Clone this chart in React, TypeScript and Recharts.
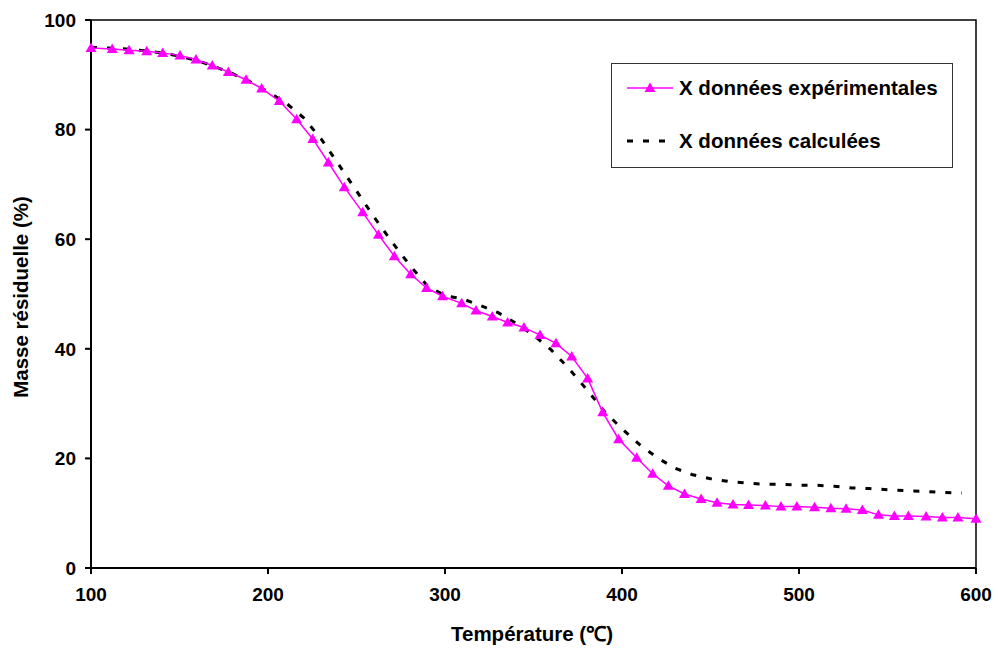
import React from "react";
import {
  LineChart,
  Line,
  XAxis,
  YAxis,
  ReferenceArea,
} from "recharts";

// experimental points (temperature °C, residual mass %)
const expTemp = [
  100, 112, 121.5, 131.5, 140.5, 150.3, 159.3, 168.5, 177.6, 187.6, 196.4,
  206.4, 216.2, 225.3, 234.1, 243.1, 253.5, 262.4, 271.4, 280.6, 289.6, 298.6,
  309.4, 317.5, 326.7, 335.4, 344.6, 353.7, 362.7, 371.6, 380.6, 389.1, 398.1,
  408.3, 417.3, 426.2, 435.3, 444.7, 453.7, 462.7, 471.5, 481, 489.8, 498.8,
  508.8, 518, 526.6, 535.8, 544.9, 553.9, 561.8, 571.8, 581, 589.8, 600,
];
const expMass = [
  94.9, 94.7, 94.5, 94.3, 94.0, 93.5, 92.8, 91.7, 90.5, 89.1, 87.5, 85.2, 81.9,
  78.3, 74.0, 69.5, 64.9, 60.8, 56.9, 53.6, 51.1, 49.6, 48.3, 47.0, 45.9, 44.8,
  43.9, 42.5, 41.0, 38.6, 34.6, 28.4, 23.5, 20.1, 17.2, 15.0, 13.5, 12.6, 11.9,
  11.6, 11.5, 11.4, 11.2, 11.2, 11.1, 10.9, 10.8, 10.6, 9.7, 9.5, 9.5, 9.4, 9.2,
  9.2, 9.0,
];

// calculated curve
const calcTemp = [
  100, 110, 120, 130, 140, 150, 160, 170, 180, 190, 200, 210, 220, 230, 240,
  250, 260, 270, 280, 290, 300, 310, 320, 330, 340, 350, 360, 370, 380, 390,
  400, 410, 420, 430, 440, 450, 460, 470, 480, 490, 500, 510, 520, 530, 540,
  550, 560, 570, 580, 592,
];
const calcMass = [
  95.0, 94.9, 94.7, 94.4, 94.0, 93.4, 92.6, 91.5, 90.2, 88.7, 86.9, 84.9, 82.2,
  78.3, 73.6, 68.8, 64.0, 59.5, 55.3, 51.5, 49.7, 49.1, 47.9, 46.6, 44.7, 42.5,
  39.8, 36.4, 32.6, 28.6, 25.4, 22.5, 20.1, 18.2, 17.0, 16.3, 15.8, 15.5, 15.3,
  15.3, 15.1, 15.1, 14.9, 14.6, 14.5, 14.3, 14.1, 14.0, 13.8, 13.7,
];

const xTicks = [100, 200, 300, 400, 500, 600];
const yTicks = [0, 20, 40, 60, 80, 100];

const MAGENTA = "#ff00ff";
const FONT = '"Liberation Sans", Arial, sans-serif';

const expData = expTemp.map((t, i) => ({ t, m: expMass[i] }));
const calcData = calcTemp.map((t, i) => ({ t, m: calcMass[i] }));

function Triangle(props: any) {
  const { cx, cy } = props;
  if (cx == null || cy == null) return null;
  return (
    <polygon
      key={`tri-${cx}-${cy}`}
      points={`${cx},${cy - 5.5} ${cx - 5.5},${cy + 4} ${cx + 5.5},${cy + 4}`}
      fill={MAGENTA}
    />
  );
}

function LegendBox() {
  const text = {
    fontFamily: FONT,
    fontWeight: 700,
    fontSize: 20.5,
    color: "#000",
    whiteSpace: "nowrap" as const,
  };
  return (
    <div
      style={{
        position: "absolute",
        left: 611,
        top: 63,
        width: 342,
        height: 105,
        border: "1.5px solid #333",
        background: "#fff",
        boxSizing: "border-box",
      }}
    >
      <div style={{ position: "absolute", left: 14, top: 12, display: "flex", alignItems: "center" }}>
        <svg width={48} height={14}>
          <line x1={1} y1={7} x2={47} y2={7} stroke={MAGENTA} strokeWidth={1.5} />
          <polygon points="24,1.5 18.5,11 29.5,11" fill={MAGENTA} />
        </svg>
        <span style={{ ...text, marginLeft: 5 }}>X données expérimentales</span>
      </div>
      <div style={{ position: "absolute", left: 14, top: 65, display: "flex", alignItems: "center" }}>
        <svg width={48} height={14}>
          <line x1={1} y1={7} x2={47} y2={7} stroke="#000" strokeWidth={3} strokeDasharray="6 10" />
        </svg>
        <span style={{ ...text, marginLeft: 5 }}>X données calculées</span>
      </div>
    </div>
  );
}

export default function App() {
  const tickStyle = { fontFamily: FONT, fontWeight: 700, fontSize: 19, fill: "#000" };
  return (
    <div style={{ position: "absolute", left: 0, top: 0, width: 998, height: 650, background: "#fff" }}>
      <LineChart
        width={998}
        height={650}
        margin={{ top: 20, right: 22, bottom: 0, left: 0 }}
      >
        <XAxis
          dataKey="t"
          type="number"
          domain={[100, 600]}
          ticks={xTicks}
          allowDuplicatedCategory={false}
          height={82}
          axisLine={{ stroke: "#000", strokeWidth: 2 }}
          tickLine={{ stroke: "#000", strokeWidth: 2 }}
          tickSize={6}
          tickMargin={14}
          tick={tickStyle}
          label={() => (
            <text
              x={532}
              y={641}
              textAnchor="middle"
              style={{ fontFamily: FONT, fontWeight: 700, fontSize: 20.5 }}
              fill="#000"
            >
              Température (℃)
            </text>
          )}
        />
        <YAxis
          type="number"
          domain={[0, 100]}
          ticks={yTicks}
          width={91}
          axisLine={{ stroke: "#000", strokeWidth: 2 }}
          tickLine={{ stroke: "#000", strokeWidth: 2 }}
          tickSize={6}
          tickMargin={9}
          tick={tickStyle}
          label={() => (
            <text
              x={28}
              y={297}
              transform="rotate(-90, 28, 297)"
              textAnchor="middle"
              style={{ fontFamily: FONT, fontWeight: 700, fontSize: 20.5 }}
              fill="#000"
            >
              Masse résiduelle (%)
            </text>
          )}
        />
        <ReferenceArea
          x1={100}
          x2={600}
          y1={0}
          y2={100}
          fill="none"
          stroke="#000"
          strokeWidth={1.5}
          ifOverflow="visible"
        />
        <Line
          data={calcData}
          dataKey="m"
          name="X données calculées"
          type="linear"
          stroke="#000"
          strokeWidth={3}
          strokeDasharray="6 10"
          dot={false}
          activeDot={false}
          isAnimationActive={false}
        />
        <Line
          data={expData}
          dataKey="m"
          name="X données expérimentales"
          type="linear"
          stroke={MAGENTA}
          strokeWidth={1.5}
          dot={<Triangle />}
          activeDot={false}
          isAnimationActive={false}
        />
      </LineChart>
      <LegendBox />
    </div>
  );
}
